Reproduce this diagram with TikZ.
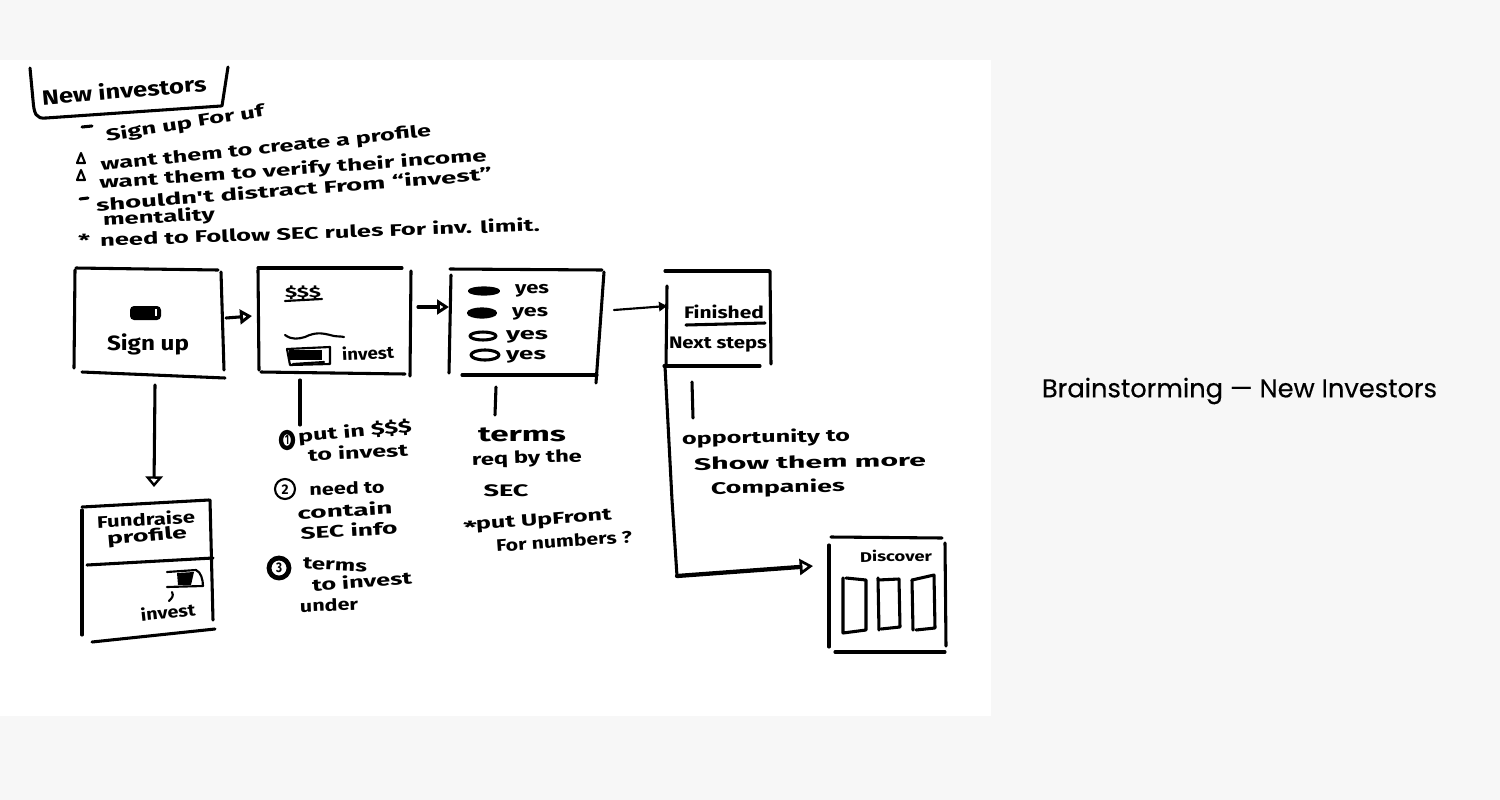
\documentclass[tikz,border=0pt]{standalone}
\usepackage{fontspec}
\usepackage{graphicx}
\usetikzlibrary{arrows.meta,calc}
\setmainfont{Poppins}
\newfontfamily\titlefont{Poppins}[FakeBold=0.35]
\newfontfamily\handfont{Fira Sans}
\definecolor{pagegrey}{HTML}{F7F7F7}
\newdimen\pxu \pxu=0.75pt
\newcommand\handtxt[5]{\node[handtext,rotate=#3] (#1) at (#2) {\resizebox{#4\pxu}{\height}{#5}};}
\newcommand\bighand[1]{{\fontsize{15.5}{17}\selectfont #1}}
\newcommand\smallhand[1]{{\fontsize{10.5}{12}\selectfont #1}}
\tikzset{
  sk/.style={line width=2.3pt,line cap=round,line join=round,black},
  thin sk/.style={line width=1.6pt,line cap=round,line join=round,black},
  heavy sk/.style={line width=3.2pt,line cap=round,line join=round,black},
  handtext/.style={inner sep=0pt,outer sep=0pt,font=\handfont\bfseries\fontsize{12.5}{14}\selectfont,text=black},
  boxarea/.style={inner sep=0pt,outer sep=0pt,draw=none},
  tipa/.style={-{Triangle[open,length=9pt,width=11pt,line width=2.2pt]}},
  tipb/.style={-{Triangle[length=6pt,width=7pt]}},
  tipc/.style={-{Triangle[open,length=8pt,width=13pt,line width=1.8pt]}},
}
\begin{document}
\begin{tikzpicture}[x=0.75pt,y=-0.75pt]
\useasboundingbox (0,0) rectangle (1500,800);
\fill[pagegrey] (0,0) rectangle (1500,800);
\fill[white] (0,60) rectangle (991,716);

% invisible box areas
\node[boxarea,minimum width=160\pxu,minimum height=110\pxu] (signup) at (146,323) {};
\node[boxarea,minimum width=166\pxu,minimum height=108\pxu] (amount) at (335,321) {};
\node[boxarea,minimum width=156\pxu,minimum height=108\pxu] (termsbox) at (527,322) {};
\node[boxarea,minimum width=106\pxu,minimum height=96\pxu] (finished) at (718,318) {};
\node[boxarea,minimum width=134\pxu,minimum height=142\pxu] (fundraise) at (148,570) {};
\node[boxarea,minimum width=118\pxu,minimum height=115\pxu] (discover) at (887,594) {};

% header
\draw[sk] (30,68) -- (33,100) .. controls (34,114) and (36,119) .. (46,118) -- (221,106);
\draw[sk] (228,67) -- (222,106);
\handtxt{h1}{124,90}{5}{165}{\bighand{New investors}}
\draw[sk] (82,127) -- (92,126);
\handtxt{n1}{185,124}{9}{160}{Sign up For uf}
\draw[thin sk] (81,153) -- (77,163) -- (85,163) -- cycle;
\handtxt{n2}{266,149}{6}{332}{want them to create a profile}
\draw[thin sk] (81,170) -- (77,180) -- (85,180) -- cycle;
\handtxt{n3}{293,170}{4}{388}{want them to verify their income}
\draw[sk] (80,199) -- (88,198);
\handtxt{n4}{294,189}{4.5}{397}{shouldn't distract From “invest”}
\handtxt{n5}{159,218}{3}{112}{mentality}
\handtxt{n6}{84,240}{0}{12}{*}
\handtxt{n7}{320,232}{2}{440}{need to Follow SEC rules For inv. limit.}

% signup box
\draw[sk] (76,268) -- (218,270);
\draw[sk] (82,372) -- (225,378);
\draw[sk] (75,270) -- (74,368);
\draw[sk] (221,272) -- (224,370);
\fill[rounded corners=3pt] (130,306) rectangle (161,320);
\draw[white,line width=0.8pt] (156,309) -- (156,316);
\handtxt{t1}{148,344}{0}{82}{\bighand{Sign up}}

% amount box
\draw[sk] (258,268) -- (402,268);
\draw[sk] (261,372) -- (405,374);
\draw[sk] (258,270) -- (259,370);
\draw[sk] (411,271) -- (410,376);
\handtxt{t2}{303,293}{0}{36}{\smallhand{\$\$\$}}
\draw[thin sk] (285,301) -- (322,299);
\draw[thin sk] (285,335) .. controls (292,340) and (298,339) .. (305,337) .. controls (315,332) and (322,333) .. (330,335) .. controls (336,337) and (340,336) .. (344,337);
\draw[thin sk] (287,349) -- (330,347) -- (330,364) -- (290,365) -- cycle;
\fill (289,350) rectangle (322,360);
\draw[thin sk] (293,364) -- (324,362);
\handtxt{t3}{368,353}{3}{52}{invest}

% terms box
\draw[sk] (450,269) -- (602,270);
\draw[sk] (462,375) -- (597,375);
\draw[sk] (451,275) -- (449,373);
\draw[sk] (604,272) -- (596,383);
\draw[thin sk,fill=black] (484,291) ellipse [x radius=15,y radius=3.5];
\draw[thin sk,fill=black] (482,313) ellipse [x radius=14,y radius=4.5];
\draw[sk] (483,336) ellipse [x radius=13,y radius=4];
\draw[sk] (485,355) ellipse [x radius=14,y radius=5];
\handtxt{y1}{532,291}{0}{34}{yes}
\handtxt{y2}{530,314}{0}{36}{yes}
\handtxt{y3}{527,337}{0}{42}{yes}
\handtxt{y4}{526,357}{0}{40}{yes}

% finished box
\draw[sk] (665,271) -- (769,271);
\draw[sk] (664,366) -- (760,366);
\draw[sk] (667,286) -- (666,366);
\draw[sk] (770,271) -- (771,364);
\handtxt{t4}{724,312}{0}{80}{Finished}
\draw[sk] (686,325) -- (765,323);
\handtxt{t5}{718,345}{0}{98}{Next steps}

% fundraise box
\draw[sk] (82,507) -- (209,500);
\draw[sk] (87,565) -- (213,558);
\draw[sk] (82,510) -- (82,635);
\draw[sk] (210,500) -- (213,620);
\draw[sk] (92,642) -- (215,629);
\handtxt{t6}{146,519}{3}{98}{Fundraise}
\handtxt{t7}{147,537}{5}{80}{profile}
\draw[thin sk] (167,572) -- (196,570) .. controls (201,572) and (203,580) .. (203,586) -- (167,587);
\fill (177,573) -- (194,572) -- (191,585) -- (178,585) -- cycle;
\draw[thin sk] (172,592) .. controls (174,596) and (172,598) .. (169,601);
\handtxt{t8}{168,612}{6}{55}{invest}

% discover box
\draw[sk] (831,537) -- (942,538);
\draw[sk] (835,652) -- (945,652);
\draw[sk] (829,545) -- (829,647);
\draw[sk] (945,543) -- (946,646);
\handtxt{t9}{896,556}{1}{72}{\smallhand{Discover}}
\draw[sk] (843,578) -- (843,633) -- (866,630) -- (866,580) -- (846,578);
\draw[sk] (878,578) -- (879,630);
\draw[sk] (878,580) -- (899,579) -- (900,627) -- (881,629);
\draw[sk] (912,580) -- (913,630);
\draw[sk] (912,580) -- (934,575) -- (935,628) -- (916,630);

% connectors
\draw[sk,tipa] ($(signup.east)+(0,-5)$) -- ($(amount.west)+(0,-5)$);
\draw[sk,tipa] ($(amount.east)+(0,-14)$) -- ($(termsbox.west)+(0,-15)$);
\draw[thin sk,tipb] ($(termsbox.east)+(9,-12)$) -- ($(finished.west)+(2,-12)$);
\draw[sk,tipc] (signup.south -| 155,378) ++(0,7) -- (154,487);
\coordinate (noteA) at (300,425);
\coordinate (noteB) at (495,415);
\coordinate (noteC) at (693,418);
\coordinate (bend) at (672,500);
\coordinate (elbow) at (677,576);
\coordinate (dtip) at (813,566);
\draw[sk] ($(amount.south)+(-35,5)$) -- (noteA);
\draw[sk] ($(termsbox.south)+(-31,11)$) -- (noteB);
\draw[sk] ($(finished.south)+(-26,16)$) -- (noteC);
\draw[sk] (finished.south west) -- (bend) -- (elbow);
\draw[heavy sk,-{Triangle[open,length=10pt,width=12pt,line width=2pt]}] (elbow) -- (dtip);

% amount notes
\draw[heavy sk] (287,440) ellipse [x radius=6,y radius=8];
\handtxt{c1}{287,440}{0}{4}{\smallhand{1}}
\handtxt{a1}{355,432}{5}{114}{put in \$\$\$}
\handtxt{a2}{358,452}{3}{100}{to invest}
\draw[thin sk] (285,489) circle [radius=10];
\handtxt{c2}{285,490}{0}{7}{\smallhand{2}}
\handtxt{a3}{347,488}{2}{75}{need to}
\handtxt{a4}{345,510}{3}{95}{contain}
\handtxt{a5}{349,530}{3}{97}{SEC info}
\draw[line width=3.6pt] (279,568) circle [radius=10];
\handtxt{c3}{279,568}{0}{6}{\smallhand{3}}
\handtxt{a6}{335,565}{-3}{64}{terms}
\handtxt{a7}{362,581}{4}{100}{to invest}
\handtxt{a8}{329,605}{2}{58}{under}

% terms notes
\handtxt{b1}{522,435}{0}{88}{\bighand{terms}}
\handtxt{b2}{527,459}{2}{110}{req by the}
\handtxt{b3}{506,491}{0}{45}{SEC}
\handtxt{b4}{470,527}{0}{14}{*}
\handtxt{b5}{544,521}{4}{136}{put UpFront}
\handtxt{b6}{564,541}{4}{136}{For numbers ?}

% finished notes
\handtxt{d1}{766,438}{1}{168}{opportunity to}
\handtxt{d2}{810,462}{1}{232}{Show them more}
\handtxt{d3}{778,488}{1}{134}{Companies}

% title
\node[inner sep=0pt,outer sep=0pt,anchor=center,text=black] (title) at (1239.5,391) {\resizebox{395\pxu}{!}{\titlefont Brainstorming — New Investors}};
\end{tikzpicture}
\end{document}
